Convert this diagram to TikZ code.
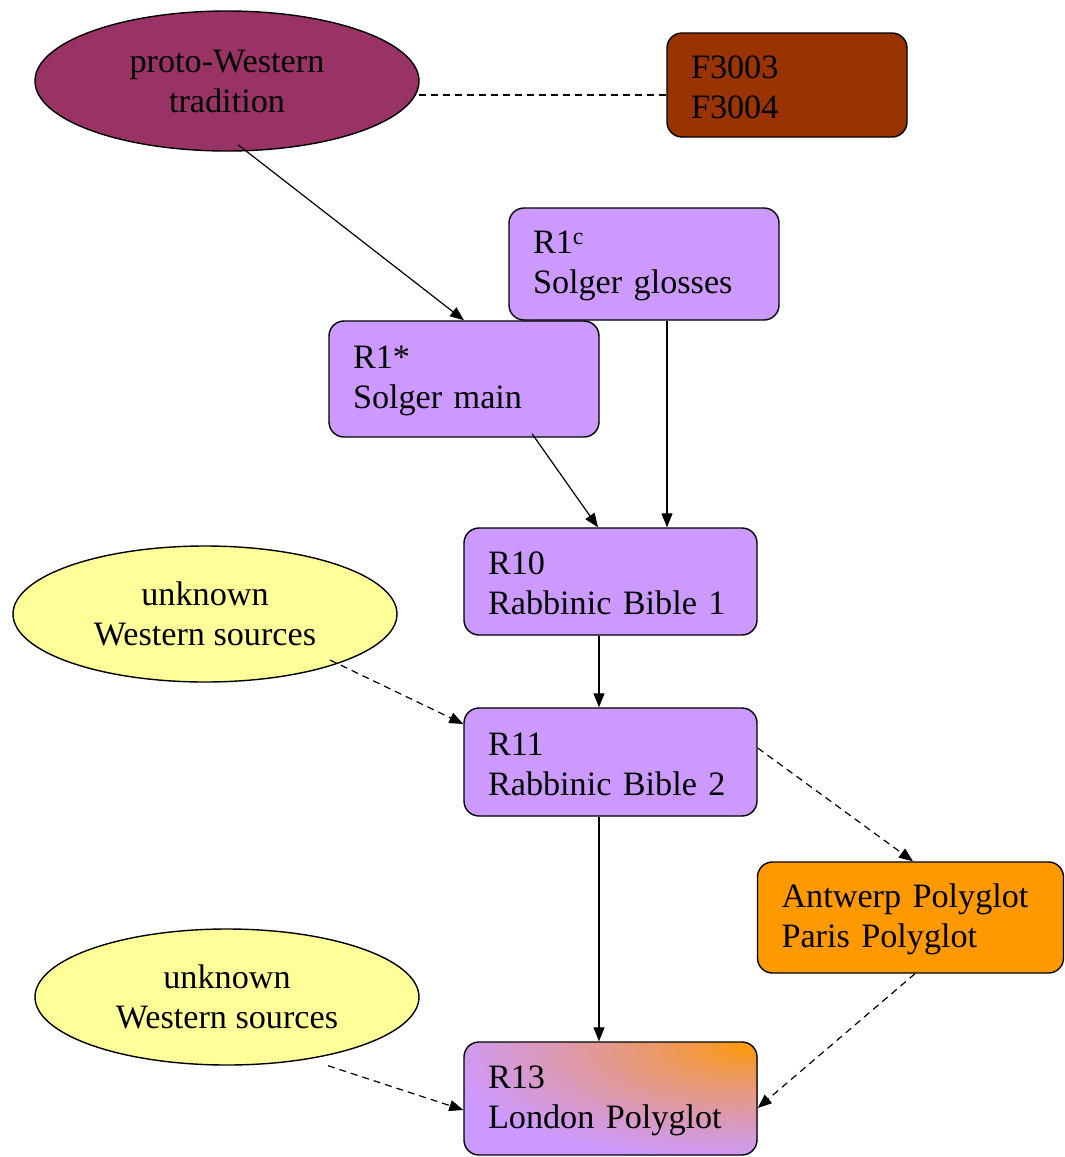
\documentclass[tikz,border=0pt]{standalone}
\usepackage{fontspec}
\setmainfont{Liberation Serif}
\usetikzlibrary{arrows.meta,calc,shapes.geometric}
\definecolor{protoc}{HTML}{993366}
\definecolor{fbox}{HTML}{993300}
\definecolor{purp}{HTML}{CC99FF}
\definecolor{yell}{HTML}{FFFF99}
\definecolor{orng}{HTML}{FF9900}
\tikzset{
  txt/.style={font=\fontsize{34.2}{40}\selectfont},
  box/.style={txt, draw=black, line width=1.4pt, rounded corners=15pt, rectangle,
    align=left, inner xsep=24pt, inner ysep=0pt, text height=27pt},
  oval/.style={txt, draw=black, line width=1.4pt, ellipse, align=center, inner sep=0pt,
    minimum width=384pt},
  link/.style={line width=1.2pt, -{Triangle[length=14pt,width=11pt]}},
  dlink/.style={link, dash pattern=on 7pt off 5pt},
  dline/.style={line width=1.2pt, dash pattern=on 7pt off 5pt},
}
\begin{document}
\begin{tikzpicture}[x=1pt,y=-1pt]
\useasboundingbox (0,0) rectangle (1065,1157);
\node[oval, fill=protoc, minimum height=140pt] (proto) at (227,81) {proto-Western\\tradition};
\node[box, fill=fbox, text width=192pt, minimum height=104pt] (F) at (787,85) {F3003\\F3004};
\node[box, fill=purp, text width=222pt, minimum height=112pt] (R1c) at (644,264) {R1\textsuperscript{c}\\Solger glosses};
\node[box, fill=purp, text width=222pt, minimum height=116pt] (R1s) at (464,379) {R1*\\Solger main};
\node[box, fill=purp, text width=245pt, minimum height=107pt] (R10) at (610.5,581.5) {R10\\Rabbinic Bible 1};
\node[oval, fill=yell, minimum height=136pt] (unk1) at (205,614) {unknown\\Western sources};
\node[box, fill=purp, text width=245pt, minimum height=108pt] (R11) at (610.5,762) {R11\\Rabbinic Bible 2};
\node[box, fill=orng, text width=258pt, minimum height=111pt] (ant) at (910.5,917.5) {Antwerp Polyglot\\Paris Polyglot};
\node[oval, fill=yell, minimum height=136pt] (unk2) at (227,997) {unknown\\Western sources};
\node[box, fill=purp, text width=245pt, minimum height=113pt,
  path picture={
    \foreach \k in {40,39,...,1}{
      \pgfmathsetmacro{\pp}{100*(\k/40)^0.75}
      \fill[purp!\pp!orng] ($(path picture bounding box.north east)+(-12,6)$)
        ellipse [x radius=7.8pt*\k, y radius=2.9pt*\k];
    }}] (R13) at (610.5,1098.5) {R13\\London Polyglot};

\draw[link] ($(proto.south)+(11,-7)$) -- (R1s.north);
\draw[dline] ($(proto.east)+(-1,14)$) -- ($(F.west)+(0,10)$);
\draw[link] ($(R1c.south)+(23,0)$) -- ($(R10.north)+(56.5,0)$);
\draw[link] ($(R1s.south)+(68,-4)$) -- ($(R10.north)+(-12.5,0)$);
\draw[link] ($(R10.south)+(-11.5,0)$) -- ($(R11.north)+(-11.5,0)$);
\draw[dlink] ($(unk1.center)+(125,46)$) -- ($(R11.west)+(0,-38)$);
\draw[dlink] ($(R11.east)+(0,-14)$) -- ($(ant.north)+(2.5,0)$);
\draw[link] ($(R11.south)+(-11.5,0)$) -- ($(R13.north)+(-11.5,0)$);
\draw[dlink] ($(ant.south)+(4.5,0)$) -- ($(R13.east)+(0,9.5)$);
\draw[dlink] ($(unk2.south)+(101,0)$) -- ($(R13.west)+(0,11.5)$);
\end{tikzpicture}
\end{document}
